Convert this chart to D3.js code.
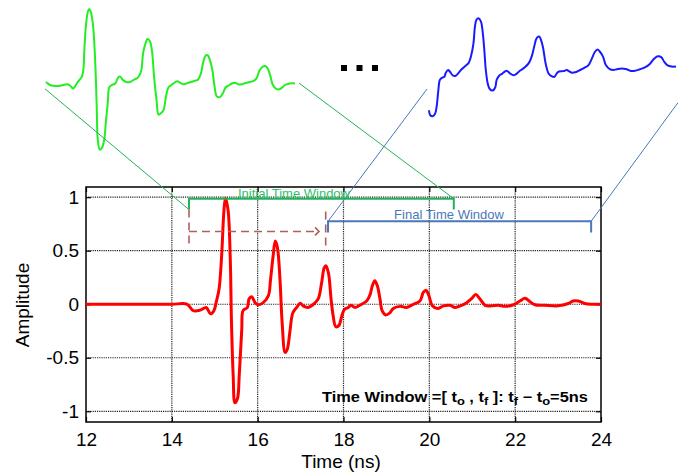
<!DOCTYPE html>
<html><head><meta charset="utf-8">
<script src="https://cdn.jsdelivr.net/npm/d3@7"></script>
<style>
html,body{margin:0;padding:0;background:#fff;}
svg{display:block;font-family:"Liberation Sans",Arial,sans-serif;}
</style></head>
<body><svg id="c" width="678" height="474"></svg>
<script>
// ---- data ----
const xTicks = [12, 14, 16, 18, 20, 22, 24];
const yTicks = [-1, -0.5, 0, 0.5, 1];
const xLabel = "Time (ns)";
const yLabel = "Amplitude";

// main received signal (time ns, amplitude)
const redWave = [[12,0],[12.5,0],[13,0],[13.5,0],[14,0],[14.35,0],[14.50,-0.06],[14.66,-0.055],[14.80,-0.03],[14.90,-0.09],[14.98,-0.06],[15.04,0.03],[15.10,0.14],[15.16,0.45],[15.215,0.88],[15.25,0.99],[15.31,0.88],[15.36,0.45],[15.39,-0.17],[15.43,-0.67],[15.47,-0.92],[15.53,-0.88],[15.57,-0.67],[15.63,-0.23],[15.66,-0.06],[15.76,-0.03],[15.80,0.05],[15.86,0.07],[15.94,0.015],[16.01,-0.005],[16.13,0.015],[16.25,0.08],[16.30,0.23],[16.36,0.45],[16.41,0.59],[16.46,0.53],[16.52,0.23],[16.57,-0.17],[16.64,-0.45],[16.69,-0.42],[16.75,-0.26],[16.82,-0.08],[16.91,-0.03],[16.99,0.01],[17.06,-0.015],[17.17,-0.03],[17.30,0],[17.41,0.05],[17.49,0.2],[17.55,0.34],[17.59,0.36],[17.65,0.29],[17.71,0.05],[17.76,-0.11],[17.82,-0.21],[17.89,-0.20],[17.96,-0.11],[18.02,-0.05],[18.11,-0.03],[18.17,-0.01],[18.27,-0.03],[18.42,0],[18.54,0.03],[18.62,0.09],[18.67,0.17],[18.73,0.22],[18.79,0.17],[18.85,0.05],[18.90,-0.06],[18.98,-0.10],[19.08,-0.08],[19.16,-0.04],[19.32,-0.02],[19.47,-0.03],[19.63,0],[19.78,0.03],[19.86,0.11],[19.92,0.13],[19.99,0.08],[20.07,-0.015],[20.19,-0.04],[20.33,-0.015],[20.48,-0.01],[20.60,-0.03],[20.75,-0.01],[20.87,0.015],[20.99,0.055],[21.08,0.09],[21.18,0.05],[21.30,-0.01],[21.45,-0.015],[21.61,-0.01],[21.76,-0.02],[21.96,-0.005],[22.11,0.03],[22.23,0.055],[22.34,0.025],[22.46,-0.005],[22.69,-0.01],[23.0,-0.015],[23.24,0.007],[23.35,0.03],[23.47,0.03],[23.62,0.007],[23.8,0],[24,0]];

// initial window waveform (time within window ns, amplitude)
const greenWave = [[0,0.04],[0.08,0],[0.15,-0.01],[0.28,-0.01],[0.42,0.01],[0.47,0],[0.52,-0.035],[0.55,-0.045],[0.60,0],[0.65,0.05],[0.72,0.11],[0.75,0.2],[0.77,0.46],[0.80,0.77],[0.84,0.96],[0.87,1.0],[0.90,0.96],[0.94,0.81],[0.97,0.55],[1.00,0.11],[1.02,-0.33],[1.04,-0.72],[1.08,-0.85],[1.12,-0.83],[1.17,-0.72],[1.20,-0.5],[1.24,-0.24],[1.27,-0.03],[1.32,0],[1.39,0.02],[1.45,0.1],[1.49,0.11],[1.54,0.07],[1.61,0.04],[1.69,0.04],[1.77,0.07],[1.85,0.1],[1.91,0.18],[1.95,0.42],[2.01,0.57],[2.04,0.61],[2.09,0.57],[2.13,0.44],[2.17,0.11],[2.22,-0.2],[2.26,-0.39],[2.31,-0.37],[2.36,-0.33],[2.41,-0.15],[2.46,-0.03],[2.52,0],[2.59,0.035],[2.64,0.05],[2.69,0.03],[2.76,0.01],[2.86,0.03],[2.96,0.05],[3.05,0.07],[3.11,0.15],[3.16,0.31],[3.21,0.39],[3.25,0.39],[3.29,0.33],[3.34,0.2],[3.38,0],[3.43,-0.15],[3.49,-0.16],[3.55,-0.11],[3.61,-0.03],[3.66,-0.01],[3.73,0.02],[3.80,0.03],[3.86,0.01],[3.93,0.01],[4.03,0.03],[4.16,0.05],[4.23,0.09],[4.28,0.18],[4.35,0.24],[4.40,0.25],[4.45,0.22],[4.50,0.13],[4.55,0.01],[4.60,-0.04],[4.67,-0.06],[4.73,-0.04],[4.80,0],[4.90,0.02],[5.00,0.02]];

// final window waveform (time within window ns, amplitude)
const blueWave = [[0,-0.53],[0.02,-0.59],[0.07,-0.61],[0.12,-0.58],[0.155,-0.48],[0.19,-0.26],[0.22,-0.13],[0.27,-0.1],[0.31,-0.09],[0.34,-0.035],[0.39,0],[0.42,-0.02],[0.49,-0.075],[0.54,-0.075],[0.59,-0.045],[0.66,0.01],[0.73,0.05],[0.80,0.09],[0.85,0.18],[0.90,0.35],[0.93,0.57],[0.96,0.66],[1.00,0.68],[1.05,0.64],[1.09,0.48],[1.12,0.26],[1.15,0],[1.19,-0.18],[1.23,-0.25],[1.29,-0.27],[1.34,-0.23],[1.37,-0.13],[1.42,-0.075],[1.48,-0.05],[1.57,-0.01],[1.64,-0.045],[1.71,-0.07],[1.77,-0.05],[1.84,-0.01],[1.94,0.035],[2.02,0.09],[2.08,0.18],[2.13,0.31],[2.18,0.42],[2.23,0.44],[2.27,0.39],[2.31,0.29],[2.36,0.09],[2.42,-0.045],[2.48,-0.08],[2.54,-0.09],[2.58,-0.05],[2.63,-0.02],[2.72,-0.015],[2.79,0],[2.83,-0.015],[2.89,-0.035],[2.96,-0.03],[3.06,0],[3.16,0.035],[3.23,0.065],[3.29,0.14],[3.36,0.24],[3.41,0.27],[3.46,0.24],[3.52,0.18],[3.58,0.065],[3.66,0.01],[3.73,0],[3.80,0.01],[3.90,0.02],[4.00,0.01],[4.07,-0.01],[4.17,-0.01],[4.27,0.01],[4.37,0.035],[4.47,0.08],[4.56,0.15],[4.63,0.18],[4.70,0.17],[4.76,0.11],[4.83,0.06],[4.91,0.045],[5.00,0.045]];

// window brackets in main-axis units
const initialWindow = {t0: 14.40, t1: 20.57, level: 0.986, foot: 0.884, label: "Initial Time Window"};
const finalWindow   = {t0: 17.64, t1: 23.77, level: 0.775, foot: 0.67,  label: "Final Time Window"};
const shiftArrow = {t0: 14.40, t1: 17.43, tEnd: 17.585, level: 0.68, top0: 0.884, top1: 0.865, bottom: 0.53};

// ---- layout ----
const svg = d3.select("#c");
svg.append("rect").attr("width",678).attr("height",474).attr("fill","#fff");
const L = 86, R = 601, T = 187, B = 422;
const x = d3.scaleLinear().domain([12,24]).range([L,R]);
const y = d3.scaleLinear().domain([-1.1,1.095]).range([B,T]);

// inset scales
const gx = d3.scaleLinear().domain([0,5]).range([46,295]);
const gy = d3.scaleLinear().domain([-1,1]).range([161,9]);
const bx = d3.scaleLinear().domain([0,5]).range([429,676]);
const by = d3.scaleLinear().domain([-1,1]).range([146,-6]);

// grid
const grid = svg.append("g").attr("stroke","#222").attr("stroke-width",1.2).attr("stroke-dasharray","1.2,1");
xTicks.slice(1,-1).forEach(t=>grid.append("line").attr("x1",x(t)).attr("x2",x(t)).attr("y1",T).attr("y2",B));
yTicks.forEach(v=>grid.append("line").attr("x1",L).attr("x2",R).attr("y1",y(v)).attr("y2",y(v)));

// axes
const fmt = d => String(d);
svg.append("g").attr("transform",`translate(0,${B})`)
  .call(d3.axisBottom(x).tickValues(xTicks).tickSize(-5).tickSizeOuter(0).tickPadding(11).tickFormat(fmt));
svg.append("g").attr("transform",`translate(${L},0)`)
  .call(d3.axisLeft(y).tickValues(yTicks).tickSize(-5).tickSizeOuter(0).tickPadding(7).tickFormat(fmt));
svg.append("g").attr("transform",`translate(0,${T})`)
  .call(d3.axisTop(x).tickValues(xTicks).tickSize(-5).tickSizeOuter(0).tickFormat(""));
svg.append("g").attr("transform",`translate(${R},0)`)
  .call(d3.axisRight(y).tickValues(yTicks).tickSize(-5).tickSizeOuter(0).tickFormat(""));
svg.selectAll(".domain").remove();
svg.selectAll(".tick line").attr("stroke","#000").attr("stroke-width",1.2);
svg.selectAll(".tick text").attr("font-size",19).attr("fill","#000").attr("font-family","Liberation Sans, Arial, sans-serif");

// frame
svg.append("rect").attr("x",L).attr("y",T).attr("width",R-L).attr("height",B-T)
  .attr("fill","none").attr("stroke","#000").attr("stroke-width",1.5);

// axis titles
svg.append("text").attr("x",341).attr("y",468).attr("text-anchor","middle").attr("font-size",19).text(xLabel);
svg.append("text").attr("transform","translate(29,305) rotate(-90)").attr("text-anchor","middle").attr("font-size",19).text(yLabel);

// red waveform
const lineMain = d3.line().x(d=>x(d[0])).y(d=>y(d[1])).curve(d3.curveCatmullRom.alpha(0.5));
svg.append("path").datum(redWave).attr("d",lineMain).attr("fill","none").attr("stroke","#ff0000").attr("stroke-width",3).attr("stroke-linejoin","round");

// insets
svg.append("path").datum(greenWave)
  .attr("d",d3.line().x(d=>gx(d[0])).y(d=>gy(d[1])).curve(d3.curveCatmullRom.alpha(0.5)))
  .attr("fill","none").attr("stroke","#22ee22").attr("stroke-width",2);
svg.append("path").datum(blueWave)
  .attr("d",d3.line().x(d=>bx(d[0])).y(d=>by(d[1])).curve(d3.curveCatmullRom.alpha(0.5)))
  .attr("fill","none").attr("stroke","#1a1aff").attr("stroke-width",2);

// ellipsis
[0,1,2].forEach(i=>svg.append("rect").attr("x",341+i*15.5).attr("y",65).attr("width",6).attr("height",6).attr("fill","#000"));

// connector lines
const gCol = "#22b25a", bCol = "#4a78b8";
svg.append("line").attr("x1",gx(-0.02)).attr("y1",gy(-0.05)).attr("x2",x(initialWindow.t0)).attr("y2",y(initialWindow.foot)).attr("stroke",gCol).attr("stroke-width",1);
svg.append("line").attr("x1",gx(5.08)).attr("y1",gy(0.026)).attr("x2",x(initialWindow.t1)).attr("y2",y(initialWindow.level)).attr("stroke",gCol).attr("stroke-width",1);
svg.append("line").attr("x1",bx(-0.04)).attr("y1",by(-0.25)).attr("x2",x(finalWindow.t0)).attr("y2",y(finalWindow.level)).attr("stroke",bCol).attr("stroke-width",1);
svg.append("line").attr("x1",bx(5.04)).attr("y1",by(-0.43)).attr("x2",x(finalWindow.t1)).attr("y2",y(finalWindow.level)).attr("stroke",bCol).attr("stroke-width",1);

// brackets
function bracket(w,col){
  svg.append("path").attr("d",`M${x(w.t0)},${y(w.foot)}V${y(w.level)}H${x(w.t1)}V${y(w.foot)}`)
    .attr("fill","none").attr("stroke",col).attr("stroke-width",2);
}
bracket(initialWindow,gCol);
bracket(finalWindow,bCol);
svg.append("text").attr("x",294).attr("y",198).attr("text-anchor","middle").attr("font-size",13).attr("fill","#2fbf6a").text(initialWindow.label);
svg.append("text").attr("x",449).attr("y",219).attr("text-anchor","middle").attr("font-size",13).attr("fill",bCol).text(finalWindow.label);

// shift arrow (dashed)
const brown = "#b0605a";
const dash = svg.append("g").attr("stroke",brown).attr("stroke-width",1.6).attr("fill","none").attr("stroke-dasharray","8,5");
dash.append("line").attr("x1",x(shiftArrow.t0)).attr("x2",x(shiftArrow.t0)).attr("y1",y(shiftArrow.top0)).attr("y2",y(shiftArrow.bottom));
dash.append("line").attr("x1",x(shiftArrow.t0)).attr("x2",x(shiftArrow.t1)).attr("y1",y(shiftArrow.level)).attr("y2",y(shiftArrow.level));
dash.append("line").attr("x1",x(shiftArrow.tEnd)).attr("x2",x(shiftArrow.tEnd)).attr("y1",y(shiftArrow.top1)).attr("y2",y(shiftArrow.bottom));
svg.append("path").attr("d",`M${x(shiftArrow.t1)-4},${y(shiftArrow.level)-4}L${x(shiftArrow.t1)},${y(shiftArrow.level)}L${x(shiftArrow.t1)-4},${y(shiftArrow.level)+4}`)
  .attr("fill","none").attr("stroke",brown).attr("stroke-width",1.6);

// time window note
const noteG = svg.append("g");
const note = noteG.append("text").attr("x",0).attr("y",0).attr("font-size",14).attr("font-weight","bold").attr("fill","#000");
const parts = [["Time Window =[ t",0],["o",1],[" , t",0],["f",1],[" ]: t",0],["f",1],[" \u2212 t",0],["o",1],["=5ns",0]];
parts.forEach(([s,sub],i)=>{
  const prevSub = i>0 ? parts[i-1][1] : 0;
  note.append("tspan").text(s)
    .attr("font-size", sub ? 11 : null)
    .attr("dy", sub ? 3 : (prevSub ? -3 : 0));
});
const w = note.node().getComputedTextLength();
noteG.attr("transform",`translate(322,402) scale(${266/w},1)`);
</script></body></html>
